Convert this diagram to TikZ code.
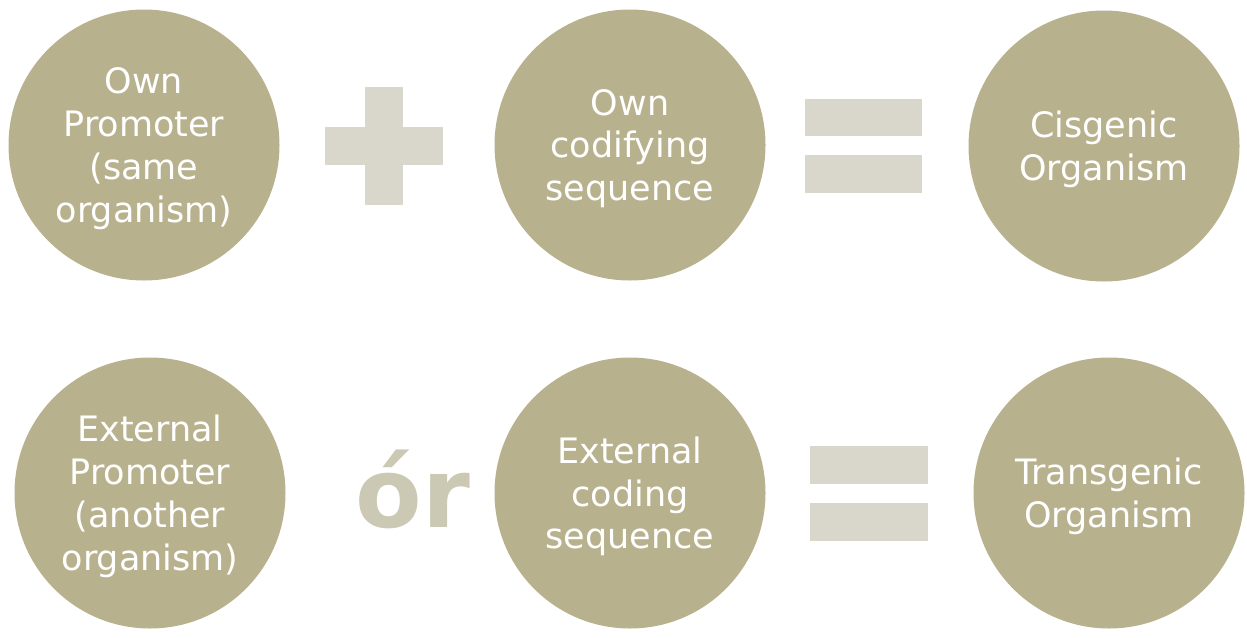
\documentclass[tikz,border=0pt]{standalone}
\usepackage{fontspec}
\setmainfont{DejaVu Sans}
\definecolor{disc}{HTML}{B8B18E}
\definecolor{sym}{HTML}{D9D7CB}
\definecolor{ortext}{HTML}{CBC8B4}
\begin{document}
\begin{tikzpicture}[x=1pt,y=-1pt,
  disc/.style={circle,fill=disc,draw=none,minimum size=271pt,inner sep=0pt},
  lbl/.style={text=white,align=center,yshift=-3.5pt,inner sep=0pt,font=\fontsize{35}{42.8}\selectfont},
  symbar/.style={fill=sym,draw=none}]
\useasboundingbox (0,0) rectangle (1247,637);
\node[disc,label={[lbl]center:Own\\Promoter\\(same\\organism)}] (ownprom) at (144,145) {};
\node[disc,label={[lbl]center:Own\\codifying\\sequence}] (owncod) at (630,145) {};
\node[disc,label={[lbl]center:Cisgenic\\Organism}] (cis) at (1104,146) {};
\node[disc,label={[lbl]center:External\\Promoter\\(another\\organism)}] (extprom) at (150,493) {};
\node[disc,label={[lbl]center:External\\coding\\sequence}] (extcod) at (630,493) {};
\node[disc,label={[lbl]center:Transgenic\\Organism}] (trans) at (1109,493) {};
% plus
\fill[symbar] (365,87) rectangle (403,205);
\fill[symbar] (325,127) rectangle (443,165);
% equals top
\fill[symbar] (805,98.5) rectangle (922,136);
\fill[symbar] (805,155) rectangle (922,192.5);
% equals bottom
\fill[symbar] (810,446) rectangle (928,484);
\fill[symbar] (810,503) rectangle (928,541);
% or
\node[anchor=base,text=ortext,font=\fontsize{97}{110}\bfseries\selectfont,inner sep=0pt] (or) at (413,527) {ór};
\end{tikzpicture}
\end{document}
